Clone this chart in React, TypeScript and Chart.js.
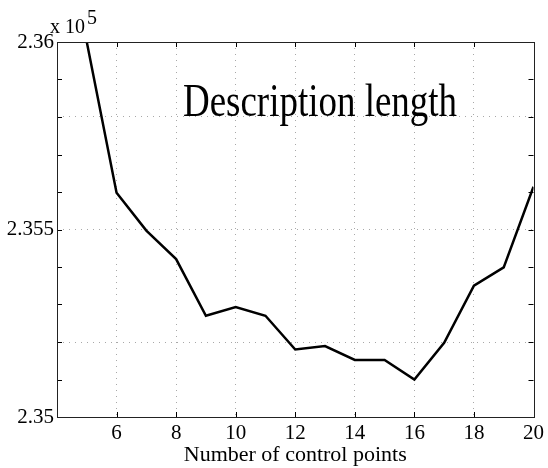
import React, { useEffect, useRef } from 'react';
import { Chart, registerables } from 'chart.js';

Chart.register(...registerables);

const controlPoints = [5, 6, 7, 8, 9, 10, 11, 12, 13, 14, 15, 16, 17, 18, 19, 20];
const descriptionLength = [
  2.3600, 2.35598, 2.35497, 2.35421, 2.3527, 2.35293, 2.3527, 2.3518,
  2.35189, 2.35152, 2.35152, 2.351, 2.35198, 2.3535, 2.35399, 2.35614,
];
const yLabeledTicks = [2.35, 2.355, 2.36];
const yGridTicks = [2.352, 2.355, 2.358];
const xMin = 4;
const xMax = 20;
const yMin = 2.35;
const yMax = 2.36;
const titleText = 'Description length';
const xAxisTitle = 'Number of control points';
const exponentBase = 'x 10';
const exponentPower = '5';

const FONT = '"Liberation Serif", "Times New Roman", serif';

const k = (v: number) => Math.round(v * 1000);

const decorPlugin = {
  id: 'decor',
  afterDraw(chart: any) {
    const { ctx, chartArea } = chart;
    const { left, right, top, bottom } = chartArea;
    const xs = chart.scales.x;
    const ys = chart.scales.y;
    ctx.save();
    // inside ticks
    ctx.strokeStyle = '#000';
    ctx.lineWidth = 1;
    ctx.beginPath();
    ys.ticks.forEach((t: any) => {
      const y = Math.round(ys.getPixelForValue(t.value)) + 0.5;
      ctx.moveTo(left, y);
      ctx.lineTo(left + 5, y);
      ctx.moveTo(right, y);
      ctx.lineTo(right - 5, y);
    });
    xs.ticks.forEach((t: any) => {
      const x = Math.round(xs.getPixelForValue(t.value)) + 0.5;
      ctx.moveTo(x, bottom);
      ctx.lineTo(x, bottom - 5);
      ctx.moveTo(x, top);
      ctx.lineTo(x, top + 5);
    });
    ctx.stroke();
    // frame
    ctx.strokeStyle = '#222';
    ctx.strokeRect(Math.round(left) + 0.5, Math.round(top) + 0.5, Math.round(right - left), Math.round(bottom - top));
    // title inside plot
    ctx.fillStyle = '#000';
    ctx.font = `46px ${FONT}`;
    ctx.textBaseline = 'alphabetic';
    ctx.textAlign = 'left';
    const w = ctx.measureText(titleText).width;
    const sx = 274 / w;
    ctx.save();
    ctx.translate(183, 116);
    ctx.scale(sx, 1);
    ctx.fillText(titleText, 0, 0);
    ctx.restore();
    // exponent
    ctx.font = `20px ${FONT}`;
    ctx.fillText(exponentBase, 50, 33);
    ctx.fillText(exponentPower, 87, 24);
    ctx.restore();
  },
};

export default function App() {
  const ref = useRef<HTMLCanvasElement>(null);
  useEffect(() => {
    if (!ref.current) return;
    const chart = new Chart(ref.current, {
      type: 'line',
      data: {
        datasets: [
          {
            data: controlPoints.map((x, i) => ({ x, y: descriptionLength[i] })),
            borderColor: '#000',
            borderWidth: 2.5,
            pointRadius: 0,
            tension: 0,
            fill: false,
          },
        ],
      },
      options: {
        responsive: false,
        animation: false,
        layout: { padding: { top: 42, right: 14, left: 0, bottom: 0 } },
        plugins: { legend: { display: false }, tooltip: { enabled: false }, title: { display: false } },
        scales: {
          x: {
            type: 'linear',
            min: xMin,
            max: xMax,
            afterFit: (s: any) => { s.height = 51; },
            ticks: {
              stepSize: 2,
              color: '#000',
              padding: 4,
              maxRotation: 0,
              font: { family: FONT, size: 21 },
              callback: (v: any) => (v === xMin ? '' : String(v)),
            },
            grid: {
              drawTicks: false,
              color: (c: any) => (c.tick && c.tick.value !== xMin && c.tick.value !== xMax ? '#a8a8a8' : 'transparent'),
              lineWidth: 1,
            },
            border: { display: false, dash: [1, 5] },
            title: {
              display: true,
              text: xAxisTitle,
              color: '#000',
              font: { family: FONT, size: 22 },
              padding: { top: 0, bottom: 0 },
            },
          },
          y: {
            type: 'linear',
            min: yMin,
            max: yMax,
            afterFit: (s: any) => { s.width = 57; },
            ticks: {
              stepSize: 0.001,
              color: '#000',
              padding: 3,
              font: { family: FONT, size: 21 },
              callback: (v: any) => {
                const m = yLabeledTicks.find((t) => k(t) === k(Number(v)));
                return m !== undefined ? String(m) : '';
              },
            },
            grid: {
              drawTicks: false,
              color: (c: any) => (c.tick && yGridTicks.some((t) => k(t) === k(c.tick.value)) ? '#a8a8a8' : 'transparent'),
              lineWidth: 1,
            },
            border: { display: false, dash: [1, 5] },
          },
        },
      },
      plugins: [decorPlugin],
    });
    return () => chart.destroy();
  }, []);
  return (
    <div style={{ position: 'fixed', left: 0, top: 0, width: 548, height: 468, background: '#fff' }}>
      <canvas ref={ref} width={548} height={468} />
    </div>
  );
}
